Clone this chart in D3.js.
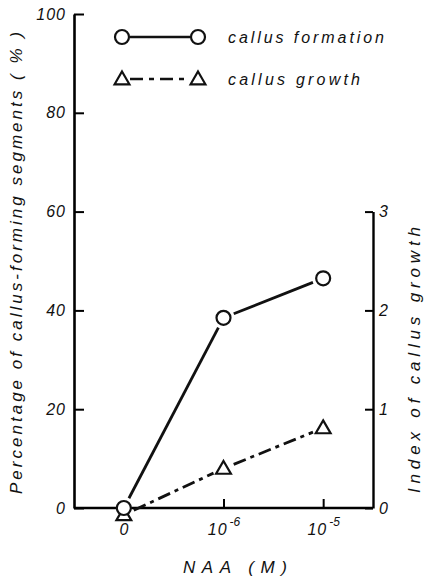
<!DOCTYPE html>
<html><head><meta charset="utf-8">
<script src="https://cdn.jsdelivr.net/npm/d3@7"></script>
<style>
html,body{margin:0;padding:0;background:#fff;}
svg text{font-family:"Liberation Sans","DejaVu Sans",sans-serif;font-style:italic;fill:#111;}
</style></head>
<body>
<svg id="c" width="427" height="581"></svg>
<script>
const categories = ["0", "1e-6", "1e-5"];
const tickBase = ["0", "10", "10"];
const tickExp = ["", "-6", "-5"];
const formation = [0, 38.5, 46.5];
const growth = [-0.07, 0.40, 0.81];
const leftTicks = [0, 20, 40, 60, 80, 100];
const rightTicks = [0, 1, 2, 3];
const legendLabels = ["callus formation", "callus growth"];

const svg = d3.select("#c");
const L = 74, R = 373, T = 14, B = 508;
const x = d3.scalePoint().domain(categories).range([L, R]).padding(0.5);
const yL = d3.scaleLinear().domain([0, 100]).range([B, T]);
const yR = d3.scaleLinear().domain([0, 3]).range([B, yL(60)]);

// axes
const gl = svg.append("g").attr("transform", `translate(${L},0)`)
  .call(d3.axisLeft(yL).tickValues(leftTicks).tickSize(-10).tickSizeOuter(0).tickPadding(8).tickFormat(d3.format("d")));
gl.select(".domain").attr("stroke-width", 2.6);
gl.selectAll(".tick line").attr("stroke-width", 2);
gl.selectAll(".tick text").attr("font-size", 16).style("letter-spacing", "1px");

const gr = svg.append("g").attr("transform", `translate(${R},0)`)
  .call(d3.axisRight(yR).tickValues(rightTicks).tickSize(-8).tickSizeOuter(0).tickPadding(6).tickFormat(d3.format("d")));
gr.select(".domain").attr("stroke-width", 2.4);
gr.selectAll(".tick line").attr("stroke-width", 2);
gr.selectAll(".tick text").attr("font-size", 16);

const gx = svg.append("g").attr("transform", `translate(0,${B})`)
  .call(d3.axisBottom(x).tickSize(-9).tickSizeOuter(0).tickPadding(12).tickFormat(""));
gx.select(".domain").attr("d", `M${L},0H${R}`).attr("stroke-width", 2.4);
gx.selectAll(".tick line").attr("stroke-width", 2).attr("opacity", (d, i) => i === 0 ? 0 : 1);
gx.selectAll(".tick").each(function(d, i) {
  const t = d3.select(this).append("text").attr("y", 27).attr("text-anchor", "middle").attr("font-size", 16).attr("fill", "#111");
  t.append("tspan").text(tickBase[i]).style("letter-spacing", "1px");
  if (tickExp[i]) t.append("tspan").text(tickExp[i]).attr("dy", -9).attr("font-size", 12).attr("dx", 2);
});

// lines
function gapSegments(pts, gap) {
  const segs = [];
  for (let i = 0; i < pts.length - 1; i++) {
    const [x1, y1] = pts[i], [x2, y2] = pts[i + 1];
    const dx = x2 - x1, dy = y2 - y1, len = Math.hypot(dx, dy);
    const ux = dx / len, uy = dy / len;
    segs.push([[x1 + ux * gap, y1 + uy * gap], [x2 - ux * gap, y2 - uy * gap]]);
  }
  return segs;
}
const line = d3.line();
const fPts = categories.map((c, i) => [x(c), yL(formation[i])]);
const gPts = categories.map((c, i) => [x(c), yR(growth[i])]);

svg.append("g").selectAll("path").data(gapSegments(fPts, 11)).join("path")
  .attr("d", line).attr("stroke", "#111").attr("stroke-width", 2.8).attr("fill", "none");
svg.append("g").selectAll("path").data(gapSegments(gPts, 11)).join("path")
  .attr("d", line).attr("stroke", "#111").attr("stroke-width", 2.8).attr("fill", "none")
  .attr("stroke-dasharray", "13,5,4,5");

const tri = d3.symbol().type(d3.symbolTriangle).size(95);
svg.append("g").selectAll("path").data(gPts).join("path")
  .attr("transform", d => `translate(${d[0]},${d[1] + 1})`).attr("d", tri)
  .attr("fill", "#fff").attr("stroke", "#111").attr("stroke-width", 2.2);
svg.append("g").selectAll("circle").data(fPts).join("circle")
  .attr("cx", d => d[0]).attr("cy", d => d[1]).attr("r", 7)
  .attr("fill", "#fff").attr("stroke", "#111").attr("stroke-width", 2.2);

// legend
const lg = svg.append("g");
const ly = [37, 79];
const lx1 = 122, lx2 = 198;
lg.append("line").attr("x1", lx1 + 8).attr("x2", lx2 - 8).attr("y1", ly[0]).attr("y2", ly[0])
  .attr("stroke", "#111").attr("stroke-width", 2.6);
lg.append("line").attr("x1", lx1 + 8).attr("x2", lx2 - 8).attr("y1", ly[1]).attr("y2", ly[1])
  .attr("stroke", "#111").attr("stroke-width", 2.6).attr("stroke-dasharray", "13,6,5,6");
[lx1, lx2].forEach(px => {
  lg.append("circle").attr("cx", px).attr("cy", ly[0]).attr("r", 7).attr("fill", "#fff").attr("stroke", "#111").attr("stroke-width", 2.2);
  lg.append("path").attr("transform", `translate(${px},${ly[1] + 1})`).attr("d", tri).attr("fill", "#fff").attr("stroke", "#111").attr("stroke-width", 2.2);
});
legendLabels.forEach((t, i) => {
  lg.append("text").attr("x", 228).attr("y", ly[i] + 6).attr("font-size", 16)
    .attr("textLength", i === 0 ? 156 : 132).attr("lengthAdjust", "spacing").text(t);
});

// axis titles
svg.append("text").attr("transform", `translate(22,${(T + B) / 2 + 2}) rotate(-90)`)
  .attr("text-anchor", "middle").attr("font-size", 17)
  .attr("textLength", 462).attr("lengthAdjust", "spacing")
  .text("Percentage of callus-forming segments ( % )");
svg.append("text").attr("transform", `translate(420,360) rotate(-90)`)
  .attr("text-anchor", "middle").attr("font-size", 17)
  .attr("textLength", 266).attr("lengthAdjust", "spacing")
  .text("Index of callus growth");
svg.append("text").attr("x", 235).attr("y", 573).attr("text-anchor", "middle").attr("font-size", 17)
  .attr("textLength", 104).attr("lengthAdjust", "spacing").text("NAA (M)");
</script>
</body></html>
